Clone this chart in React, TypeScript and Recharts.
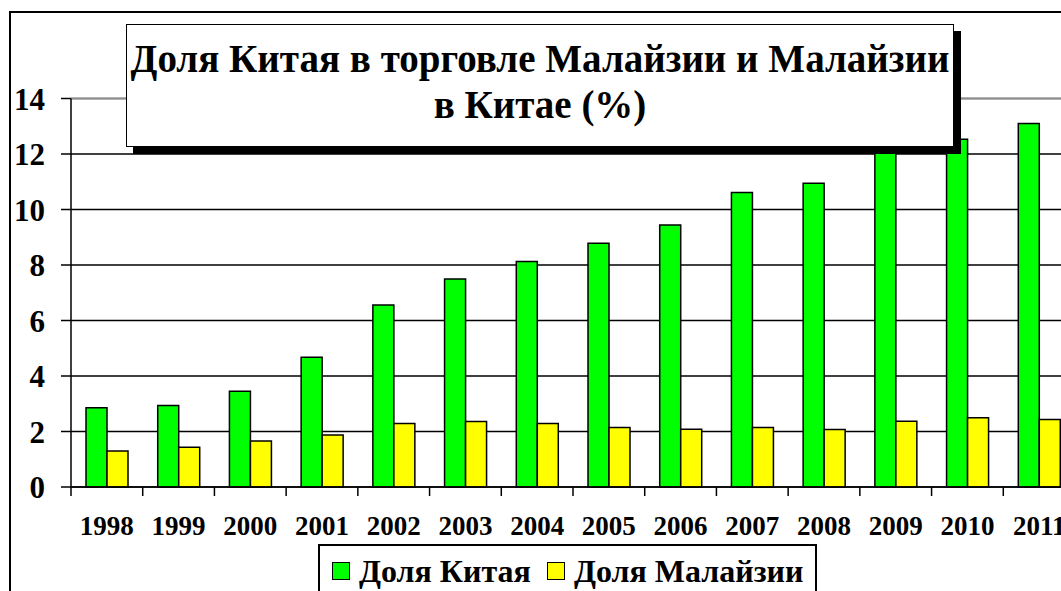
import React from "react";
import { BarChart, Bar, XAxis, YAxis, CartesianGrid, ReferenceLine } from "recharts";

const years = ["1998", "1999", "2000", "2001", "2002", "2003", "2004", "2005", "2006", "2007", "2008", "2009", "2010", "2011"];
const chinaShare = [2.86, 2.94, 3.45, 4.68, 6.56, 7.5, 8.13, 8.78, 9.44, 10.61, 10.95, 12.2, 12.53, 13.1];
const malaysiaShare = [1.3, 1.43, 1.66, 1.87, 2.29, 2.36, 2.29, 2.14, 2.08, 2.14, 2.07, 2.37, 2.5, 2.43];
const yTicks = [0, 2, 4, 6, 8, 10, 12, 14];
const seriesNames = ["Доля Китая", "Доля Малайзии"];
const seriesColors = ["#00ff00", "#ffff00"];

const data = years.map((year, i) => ({
  year,
  china: chinaShare[i],
  malaysia: malaysiaShare[i],
}));

const font = '"Liberation Serif", Tinos, "DejaVu Serif", "Times New Roman", serif';

// tick mark sits on the band edge, label in the middle (Excel style)
const XTick = (props: any) => {
  const { x, y, payload } = props;
  const half = payload && payload.offset ? payload.offset : 36;
  return (
    <g>
      <line x1={x - half} y1={y} x2={x - half} y2={y + 9} stroke="#000" strokeWidth={1.5} />
      <text x={x} y={y + 29} dy="0.71em" textAnchor="middle" fontSize={27} fontWeight="bold" style={{ fontFamily: font }} fill="#000">
        {payload.value}
      </text>
    </g>
  );
};

export default function App() {
  return (
    <div
      style={{
        position: "absolute",
        left: 0,
        top: 0,
        width: 1061,
        height: 591,
        overflow: "hidden",
        background: "#fff",
        fontFamily: font,
      }}
    >
      <div style={{ position: "absolute", left: 9, top: 11, width: 1200, height: 700, border: "2px solid #000" }} />

      <div style={{ position: "absolute", left: 0, top: 0 }}>
        <BarChart
          width={1100}
          height={591}
          data={data}
          margin={{ top: 98.5, right: 25, left: 0, bottom: 44 }}
          barGap={0}
          barSize={21}
          style={{ fontFamily: font }}
        >
          <CartesianGrid vertical={false} stroke="#000" strokeWidth={1.5} />
          <XAxis
            dataKey="year"
            height={60}
            tickSize={0}
            tickMargin={0}
            tick={<XTick />}
            axisLine={{ stroke: "#000", strokeWidth: 1.5 }}
            interval={0}
          />
          <YAxis
            width={71}
            domain={[0, 14]}
            ticks={yTicks}
            interval={0}
            tickSize={10}
            tickMargin={16}
            axisLine={{ stroke: "#000", strokeWidth: 1.5 }}
            tickLine={{ stroke: "#000", strokeWidth: 1.5 }}
            tick={{ fontSize: 31, fontWeight: "bold", fill: "#000", style: { fontFamily: font } }}
          />
          <ReferenceLine y={14} stroke="#8c8c8c" strokeWidth={1.5} />
          <Bar dataKey="china" name={seriesNames[0]} fill={seriesColors[0]} stroke="#000" strokeWidth={1.5} isAnimationActive={false} />
          <Bar dataKey="malaysia" name={seriesNames[1]} fill={seriesColors[1]} stroke="#000" strokeWidth={1.5} isAnimationActive={false} />
        </BarChart>
      </div>

      <div
        style={{
          position: "absolute",
          left: 126,
          top: 24,
          width: 826,
          height: 121,
          border: "1.5px solid #000",
          background: "#fff",
          boxShadow: "7px 7px 0 #000",
          textAlign: "center",
          fontWeight: "bold",
          fontSize: 39,
          lineHeight: "46px",
          color: "#000",
          whiteSpace: "nowrap",
        }}
      >
        <div style={{ paddingTop: 11 }}>
          Доля Китая в торговле Малайзии и Малайзии
          <br />в Китае (%)
        </div>
      </div>

      <div
        style={{
          position: "absolute",
          left: 318,
          top: 544,
          width: 499,
          height: 80,
          border: "2px solid #000",
          background: "#fff",
          display: "flex",
          alignItems: "flex-start",
          paddingLeft: 12,
          paddingTop: 7,
          boxSizing: "border-box",
          fontWeight: "bold",
          fontSize: 32,
          lineHeight: "36px",
          color: "#000",
          whiteSpace: "nowrap",
        }}
      >
        {seriesNames.map((name, i) => (
          <div key={name} style={{ display: "flex", alignItems: "center", marginRight: 16, flexShrink: 0 }}>
            <span
              style={{
                display: "inline-block",
                width: 16,
                height: 16,
                background: seriesColors[i],
                border: "1.5px solid #000",
                marginRight: 9,
              }}
            />
            <span>{name}</span>
          </div>
        ))}
      </div>
    </div>
  );
}
